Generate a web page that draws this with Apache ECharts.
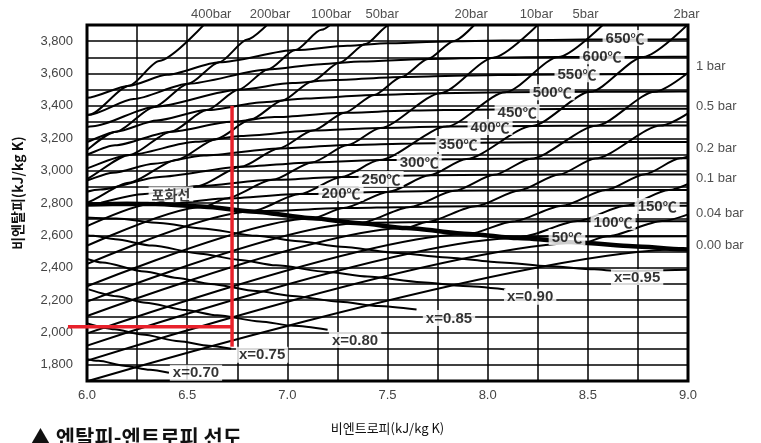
<!DOCTYPE html>
<html>
<head>
<meta charset="utf-8">
<script src="https://cdn.jsdelivr.net/npm/echarts@6/dist/echarts.min.js"></script>
<style>
html, body { margin: 0; padding: 0; background: #fff; }
#chart { width: 761px; height: 443px; }
</style>
</head>
<body>
<div id="chart"></div>
<script>
// 등압선 (s, h)
var p400 = [[5.47, 2903], [5.77, 3150], [6.011, 3346], [6.21, 3525], [6.36, 3678], [6.62, 3951]];
var p200 = [[5.554, 2819], [5.902, 3061], [6.145, 3241], [6.336, 3394], [6.505, 3537], [6.66, 3670], [6.80, 3810], [6.93, 3940]];
var p100 = [[5.614, 2725], [5.944, 2923], [6.212, 3097], [6.419, 3241], [6.597, 3374], [6.756, 3500], [6.903, 3625], [7.04, 3745], [7.17, 3870], [7.29, 3990]];
var p50 = [[5.8, 2701], [5.973, 2794], [6.208, 2925], [6.449, 3068], [6.646, 3196], [6.819, 3317], [6.976, 3434], [7.121, 3550], [7.259, 3666], [7.39, 3782], [7.51, 3900], [7.6, 3990]];
var p20 = [[5.8, 2537], [6.34, 2799], [6.547, 2903], [6.768, 3024], [6.957, 3137], [7.128, 3248], [7.286, 3358], [7.433, 3468], [7.57, 3579], [7.702, 3690], [7.83, 3800], [7.946, 3917]];
var p10 = [[5.8, 2421], [6.585, 2777], [6.694, 2828], [6.926, 2943], [7.123, 3051], [7.301, 3158], [7.465, 3264], [7.764, 3479], [8.029, 3698], [8.27, 3925]];
var p5 = [[5.8, 2314], [6.821, 2748], [7.061, 2855], [7.271, 2961], [7.46, 3065], [7.794, 3272], [8.088, 3484], [8.353, 3702], [8.596, 3926]];
var p2 = [[5.8, 2184], [7.127, 2706], [7.28, 2769], [7.508, 2870], [7.709, 2971], [7.894, 3072], [8.222, 3276], [8.513, 3487], [8.777, 3703], [9.02, 3928]];
var p1 = [[5.8, 2094], [7.359, 2675], [7.613, 2776], [7.834, 2875], [8.033, 2974], [8.216, 3074], [8.543, 3278], [8.834, 3488], [9.098, 3704]];
var p05 = [[5.8, 2009], [7.593, 2645], [7.695, 2683], [7.94, 2780], [8.158, 2878], [8.356, 2976], [8.537, 3075], [8.864, 3279], [9.155, 3488]];
var p02 = [[5.8, 1907], [7.907, 2609], [8.126, 2686], [8.373, 2783], [8.589, 2880], [8.785, 2978], [8.961, 3076], [9.13, 3176]];
var p01 = [[5.8, 1835], [8.149, 2584], [8.175, 2593], [8.448, 2688], [8.688, 2783], [8.904, 2880], [9.1, 2977]];
var p004 = [[5.8, 1746], [8.473, 2554], [8.598, 2594], [8.871, 2688], [9.11, 2784]];
var p001 = [[5.8, 1624], [8.975, 2514], [9.236, 2594]];

// 등온선
var t650 = [[5.9, 3415], [6.0, 3450], [6.21, 3525], [6.4, 3592], [6.66, 3670], [7.04, 3745], [7.3, 3772], [7.5, 3787], [7.83, 3800], [8.16, 3806], [8.48, 3810], [8.9, 3811], [9.1, 3812]];
var t600 = [[5.9, 3300], [6.011, 3346], [6.233, 3443], [6.505, 3537], [6.903, 3625], [7.168, 3658], [7.369, 3674], [7.702, 3690], [8.029, 3698], [8.353, 3702], [8.776, 3703], [9.1, 3704]];
var t550 = [[5.77, 3150], [6.03, 3275], [6.336, 3394], [6.756, 3500], [7.025, 3541], [7.23, 3560], [7.57, 3579], [7.895, 3588], [8.21, 3593], [8.96, 3597], [9.1, 3598]];
var t500 = [[5.79, 3081], [5.96, 3165], [6.145, 3241], [6.348, 3310], [6.597, 3374], [6.881, 3423], [7.091, 3446], [7.433, 3468], [7.764, 3479], [8.088, 3484], [8.51, 3487], [8.834, 3488], [9.1, 3489]];
var t450 = [[5.68, 2951], [5.902, 3061], [6.14, 3157], [6.419, 3241], [6.72, 3302], [6.936, 3331], [7.286, 3358], [7.619, 3371], [7.945, 3377], [8.37, 3381], [8.69, 3382], [9.1, 3383]];
var t400 = [[5.554, 2819], [5.881, 2975], [6.212, 3097], [6.541, 3178], [6.769, 3214], [7.128, 3248], [7.465, 3264], [7.794, 3272], [8.222, 3276], [8.543, 3278], [9.1, 3279]];
var t350 = [[5.85, 2891], [5.944, 2923], [6.13, 2987], [6.334, 3043], [6.584, 3093], [6.957, 3137], [7.301, 3158], [7.633, 3168], [8.063, 3174], [8.379, 3176], [8.699, 3177], [9.1, 3177]];
var t300 = [[5.79, 2786], [6.067, 2884], [6.362, 2961], [6.768, 3024], [7.123, 3051], [7.46, 3065], [7.894, 3072], [8.216, 3074], [8.537, 3075], [8.861, 3076], [9.1, 3077]];
var t250 = [[6.07, 2801], [6.289, 2856], [6.547, 2903], [6.926, 2943], [7.271, 2961], [7.709, 2971], [8.033, 2974], [8.356, 2976], [9.1, 2977]];
var t200 = [[6.431, 2793], [6.694, 2828], [7.061, 2855], [7.508, 2870], [7.834, 2875], [8.158, 2878], [8.904, 2880], [9.1, 2880]];
var t150 = [[6.837, 2746], [6.93, 2752], [7.28, 2769], [7.613, 2776], [7.94, 2780], [8.688, 2783], [9.1, 2784]];
var t100 = [[7.355, 2676], [7.695, 2682], [8.448, 2687], [9.1, 2688]];
var t50 = [[8.075, 2592], [8.175, 2593], [9.1, 2594]];

// 건도선
var q70 = [[5.9, 1867], [6.058, 1825], [6.184, 1795], [6.314, 1769], [6.409, 1751]];
var q75 = [[5.968, 2069], [6.138, 2020], [6.275, 1987], [6.46, 1946], [6.608, 1918], [6.72, 1899]];
var q80 = [[6.008, 2266], [6.148, 2224], [6.293, 2184], [6.492, 2138], [6.65, 2106], [6.863, 2068], [7.031, 2041], [7.201, 2017]];
var q85 = [[6.001, 2454], [6.077, 2432], [6.287, 2376], [6.451, 2337], [6.618, 2300], [6.846, 2256], [7.025, 2226], [7.265, 2189], [7.454, 2164], [7.645, 2142]];
var q90 = [[5.951, 2610], [6.032, 2597], [6.141, 2576], [6.325, 2537], [6.567, 2487], [6.753, 2450], [6.943, 2415], [7.2, 2374], [7.4, 2346], [7.668, 2311], [7.877, 2287], [8.088, 2266]];
var q95 = [[5.906, 2715], [6.145, 2704], [6.364, 2677], [6.573, 2643], [6.847, 2597], [7.056, 2563], [7.268, 2530], [7.553, 2491], [7.775, 2465], [8.07, 2433], [8.3, 2410], [8.532, 2390], [8.65, 2380], [9.0, 2388]];

// 포화선
var satLine = [[6.0, 2790], [6.2, 2795], [6.34, 2794], [6.585, 2777], [6.821, 2748], [7.127, 2706], [7.359, 2675], [7.593, 2645], [7.907, 2609], [8.149, 2584], [8.473, 2554], [8.723, 2533], [8.975, 2514], [9.0, 2512]];

// 빨간 보조선
var redV = [[6.724, 1912], [6.724, 3400]];
var redH = [[5.905, 2035], [6.724, 2035]];

// 라벨
var topNames = ['400bar', '200bar', '100bar', '50bar', '20bar', '10bar', '5bar', '2bar'];
var topS = [6.62, 6.914, 7.219, 7.473, 7.918, 8.243, 8.489, 8.993];
var rightNames = ['1 bar', '0.5 bar', '0.2 bar', '0.1 bar', '0.04 bar', '0.00 bar'];
var rightH = [3646, 3399, 3140, 2954, 2738, 2535];
var tempNames = ['650', '600', '550', '500', '450', '400', '350', '300', '250', '200', '150', '100', '50'];
var tempPos = [[8.686, 3819], [8.571, 3707], [8.446, 3596], [8.322, 3485], [8.147, 3362], [8.012, 3269], [7.852, 3164], [7.658, 3053], [7.468, 2948], [7.268, 2862], [8.846, 2781], [8.626, 2683], [8.396, 2590]];
var qualNames = ['x=0.95', 'x=0.90', 'x=0.85', 'x=0.80', 'x=0.75', 'x=0.70'];
var qualPos = [[8.746, 2343], [8.212, 2220], [7.807, 2090], [7.338, 1954], [6.874, 1862], [6.544, 1751]];
var satName = '포화선';
var satPos = [6.419, 2856];

var FONT = "'Liberation Sans', 'Noto Sans CJK KR', sans-serif";
var KFONT = "'Noto Sans CJK KR', sans-serif";

var myChart = echarts.init(document.getElementById('chart'));

function curve(data, width) {
    return {
        type: 'line',
        data: data,
        symbol: 'none',
        smooth: 0.25,
        smoothMonotone: 'x',
        silent: true,
        z: 3,
        lineStyle: { color: '#000', width: width }
    };
}

var series = [];
[p400, p200, p100, p50, p20, p10, p5, p2, p1, p05, p02, p01, p004, p001].forEach(function (d) {
    series.push(curve(d, 2));
});
[t650, t600, t550, t500, t450, t400, t350, t300, t250, t200, t150, t100, t50].forEach(function (d) {
    series.push(curve(d, 2));
});
[q70, q75, q80, q85, q90, q95].forEach(function (d) {
    series.push(curve(d, 2));
});
series.push(curve(satLine, 4.5));

// 빨간선: 축 밖(왼쪽)까지 그려야 해서 custom 시리즈 사용
series.push({
    type: 'custom',
    silent: true,
    clip: false,
    z: 6,
    data: [0, 1],
    renderItem: function (params, api) {
        var pts = (params.dataIndex === 0 ? redV : redH).map(function (p) { return api.coord(p); });
        return {
            type: 'polyline',
            shape: { points: pts },
            style: { stroke: '#e8212b', lineWidth: 3.5, fill: null }
        };
    }
});

var boxLabel = {
    show: true,
    position: 'inside',
    backgroundColor: '#fff',
    padding: [1, 3, 0, 3],
    color: '#000',
    textBorderWidth: 0,
    fontFamily: FONT,
    fontWeight: 'bold',
    fontSize: 15,
    rich: {
        n: { fontFamily: FONT, fontWeight: 'bold', fontSize: 15, color: '#000', textBorderWidth: 0 },
        u: { fontFamily: KFONT, fontSize: 14, color: '#000', textBorderWidth: 0 }
    }
};

series.push({
    type: 'scatter', symbolSize: 0, silent: true, z: 10,
    data: tempNames.map(function (t, i) { return { name: t, value: tempPos[i] }; }),
    label: Object.assign({}, boxLabel, { formatter: function (p) { return '{n|' + p.name + '}{u|℃}'; } })
});
series.push({
    type: 'scatter', symbolSize: 0, silent: true, z: 10,
    data: qualNames.map(function (t, i) { return { name: t, value: qualPos[i] }; }),
    label: Object.assign({}, boxLabel, { formatter: '{b}' })
});
series.push({
    type: 'scatter', symbolSize: 0, silent: true, z: 10,
    data: [{ name: satName, value: satPos }],
    label: {
        show: true, position: 'inside', backgroundColor: '#fff', padding: [1, 3, 0, 3],
        formatter: '{k|{b}}',
        rich: { k: { fontFamily: KFONT, fontWeight: 'bold', fontSize: 14, color: '#111', textBorderWidth: 0 } }
    }
});
series.push({
    type: 'scatter', symbolSize: 0, silent: true, z: 10, clip: false,
    data: topNames.map(function (t, i) { return { name: t, value: [topS[i], 3900] }; }),
    label: { show: true, position: 'top', distance: 4, formatter: '{b}', color: '#222', textBorderWidth: 0, fontFamily: FONT, fontSize: 13 }
});
series.push({
    type: 'scatter', symbolSize: 0, silent: true, z: 10, clip: false,
    data: rightNames.map(function (t, i) { return { name: t, value: [9.0, rightH[i]] }; }),
    label: { show: true, position: 'right', distance: 8, formatter: '{b}', color: '#222', textBorderWidth: 0, fontFamily: FONT, fontSize: 13 }
});

var option = {
    animation: false,
    grid: {
        left: 87, right: 73, top: 25, bottom: 62,
        show: true, borderColor: '#000', borderWidth: 3, backgroundColor: 'transparent'
    },
    xAxis: {
        type: 'value', min: 6, max: 9, interval: 0.25,
        name: '비엔트로피(kJ/kg K)', nameLocation: 'middle', nameGap: 41,
        nameTextStyle: { fontFamily: KFONT, fontSize: 13, color: '#111' },
        axisLine: { show: false }, axisTick: { show: false },
        axisLabel: {
            margin: 8, color: '#444', fontFamily: FONT, fontSize: 13,
            formatter: function (v) { return Math.round(v * 4) % 2 === 0 ? v.toFixed(1) : ''; }
        },
        splitLine: { show: true, lineStyle: { color: '#000', width: 1.5 } }
    },
    yAxis: {
        type: 'value', min: 1700, max: 3900, interval: 100,
        name: '비엔탈피(kJ/kg K)', nameLocation: 'middle', nameGap: 62,
        nameTextStyle: { fontFamily: KFONT, fontSize: 14, fontWeight: 'bold', color: '#111', padding: [0, 0, 0, 20] },
        axisLine: { show: false }, axisTick: { show: false },
        axisLabel: {
            margin: 14, color: '#444', fontFamily: FONT, fontSize: 13,
            formatter: function (v) { return (v % 200 === 0 && v > 1700 && v < 3900) ? v.toLocaleString('en-US') : ''; }
        },
        splitLine: { show: true, lineStyle: { color: '#000', width: 1.5 } }
    },
    graphic: [{
        type: 'text', left: 30, top: 427,
        style: { text: '▲ 엔탈피-엔트로피 선도', fontFamily: KFONT, fontSize: 21, fontWeight: 'bold', fill: '#111' }
    }],
    series: series
};
myChart.setOption(option);
</script>
</body>
</html>
